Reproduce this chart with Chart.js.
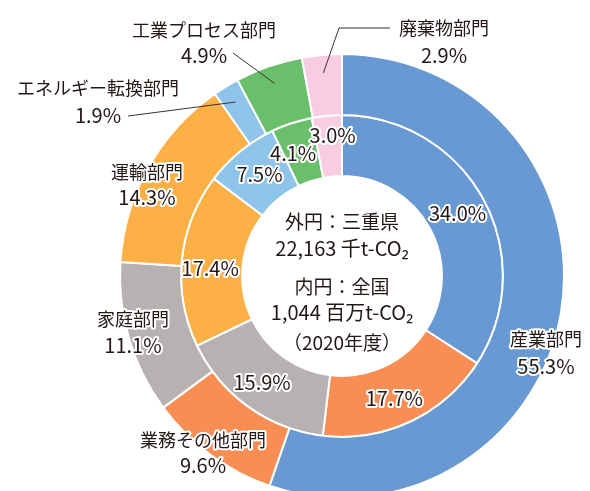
<!DOCTYPE html>
<html lang="ja">
<head>
<meta charset="utf-8">
<script src="https://cdn.jsdelivr.net/npm/chart.js@4.4.1/dist/chart.umd.min.js"></script>
<style>
  html, body { margin: 0; padding: 0; background: #fff; }
  #wrap { width: 590px; height: 491px; overflow: hidden; position: relative; }
</style>
</head>
<body>
<div id="wrap"><canvas id="donut" width="590" height="500"></canvas></div>
<script>
(() => {
  // 部門
  const sectors = ["産業部門", "業務その他部門", "家庭部門", "運輸部門", "エネルギー転換部門", "工業プロセス部門", "廃棄物部門"];
  // 外円：三重県 (%)
  const mieShare = [55.3, 9.6, 11.1, 14.3, 1.9, 4.9, 2.9];
  // 内円：全国 (%)
  const japanShare = [34.0, 17.7, 15.9, 17.4, 7.5, 4.1, 3.0];
  const sectorColors = ["#6899d3", "#f98e55", "#b7b1b1", "#fdb046", "#8ec4ea", "#6abf6b", "#f9cde1"];
  const centerLines = ["外円：三重県", "22,163 千t-CO₂", "内円：全国", "1,044 百万t-CO₂", "（2020年度）"];

  const INK = "#231815";
  const FONT = "'Noto Sans CJK JP', 'Noto Sans', sans-serif";

  // 外側ラベルの配置 (名前行 / %行), 引出線の外側の点
  const outerLabelPos = [
    { x: 546, y1: 339, y2: 366 },
    { x: 203, y1: 440, y2: 465 },
    { x: 133, y1: 319, y2: 345 },
    { x: 147, y1: 172, y2: 197 },
    { x: 98,  y1: 88,  y2: 115, leader: [[128, 116]] },
    { x: 204, y1: 30,  y2: 55,  leader: [[233, 53]] },
    { x: 444, y1: 28,  y2: 55,  leader: [[339, 28], [390, 28]] }
  ];
  // 内円ラベルの微調整 (dx, dy)
  const innerNudge = [[1, 0], [-3, 4], [-4, 0], [-2, 6], [0, -1], [-8, 1], [3, -11]];
  const centerLayout = [
    { y: 222, size: 19 },
    { y: 248, size: 20 },
    { y: 287, size: 19 },
    { y: 312, size: 20 },
    { y: 343, size: 19 }
  ];

  const pct = (v) => v.toFixed(1) + "%";

  function haloText(ctx, text, x, y) {
    ctx.lineJoin = "round";
    ctx.lineWidth = 4;
    ctx.strokeStyle = "#fff";
    ctx.strokeText(text, x, y);
    ctx.fillStyle = INK;
    ctx.fillText(text, x, y);
  }

  const labelPlugin = {
    id: "ringLabels",
    afterDraw: (chart) => {
      const ctx = chart.ctx;
      const outer = chart.getDatasetMeta(0).data;
      const inner = chart.getDatasetMeta(1).data;
      ctx.save();
      ctx.textAlign = "center";
      ctx.textBaseline = "middle";

      // 引出線
      ctx.strokeStyle = "#3a302c";
      ctx.lineWidth = 1;
      outerLabelPos.forEach((p, i) => {
        if (!p.leader) return;
        const a = outer[i];
        const mid = (a.startAngle + a.endAngle) / 2;
        const r = a.outerRadius - 18;
        ctx.beginPath();
        ctx.moveTo(a.x + r * Math.cos(mid), a.y + r * Math.sin(mid));
        p.leader.forEach(([lx, ly]) => ctx.lineTo(lx, ly));
        ctx.stroke();
      });

      // 外円ラベル
      outerLabelPos.forEach((p, i) => {
        ctx.font = "18px " + FONT;
        haloText(ctx, sectors[i], p.x, p.y1);
        ctx.font = "20px " + FONT;
        haloText(ctx, pct(mieShare[i]), p.x, p.y2);
      });

      // 内円ラベル
      ctx.font = "20px " + FONT;
      inner.forEach((arc, i) => {
        const pos = arc.tooltipPosition();
        haloText(ctx, pct(japanShare[i]), pos.x + innerNudge[i][0], pos.y + innerNudge[i][1]);
      });

      // 中央テキスト
      ctx.fillStyle = INK;
      centerLines.forEach((t, i) => {
        ctx.font = centerLayout[i].size + "px " + FONT;
        ctx.fillText(t, outer[0].x, centerLayout[i].y);
      });
      ctx.restore();
    }
  };

  new Chart(document.getElementById("donut"), {
    type: "doughnut",
    data: {
      labels: sectors,
      datasets: [
        { label: "三重県", data: mieShare, backgroundColor: sectorColors, borderColor: "#fff", borderWidth: 2 },
        { label: "全国", data: japanShare, backgroundColor: sectorColors, borderColor: "#fff", borderWidth: 2 }
      ]
    },
    options: {
      responsive: false,
      animation: false,
      cutout: "45%",
      layout: { padding: { left: 119, right: 25, top: 53, bottom: 1 } },
      plugins: {
        legend: { display: false },
        tooltip: { enabled: false }
      }
    },
    plugins: [labelPlugin]
  });
})();
</script>
</body>
</html>
